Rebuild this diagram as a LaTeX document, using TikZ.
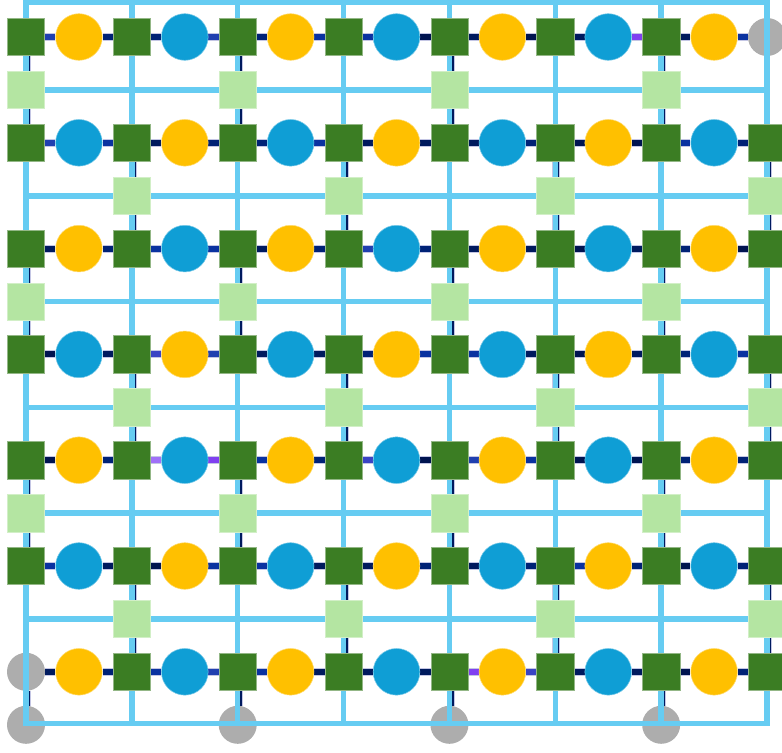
\documentclass[tikz,border=0pt]{standalone}
\usetikzlibrary{calc}
\definecolor{gridblue}{HTML}{66CCF2}
\definecolor{leaf}{HTML}{3B7D23}
\definecolor{gold}{HTML}{FFC000}
\definecolor{sea}{HTML}{0F9ED5}
\definecolor{mint}{HTML}{B4E5A2}
\definecolor{ash}{HTML}{ADADAD}
\definecolor{rim}{HTML}{C4C6E4}
\definecolor{eA}{HTML}{001450}
\definecolor{eB}{HTML}{001A5E}
\definecolor{eC}{HTML}{002276}
\definecolor{eD}{HTML}{0A32A0}
\definecolor{eE}{HTML}{2040B0}
\definecolor{eF}{HTML}{3A44C4}
\definecolor{eG}{HTML}{8040F0}
\definecolor{eH}{HTML}{A070F8}
\pgfdeclarelayer{under}\pgfdeclarelayer{rungs}\pgfdeclarelayer{lattice}\pgfdeclarelayer{links}
\pgfsetlayers{under,rungs,lattice,links,main}
\tikzset{gsq/.style={rectangle,fill=leaf,draw=leaf!55!white,line width=0.4pt,minimum size=28pt,inner sep=0pt},
  pad/.style={gsq,fill=mint,draw=mint!60!white},
  ycirc/.style={circle,fill=gold,draw=gold!55!white,line width=0.4pt,minimum size=35pt,inner sep=0pt},
  bcirc/.style={ycirc,fill=sea,draw=sea!55!white},
  gcirc/.style={circle,fill=ash,minimum size=28.5pt,inner sep=0pt},
  mesh/.style={draw=gridblue,line width=4.1pt},
  link/.style={draw=rim,line width=0.75pt,double=#1,double distance=4.5pt},
  rung/.style={link=eB,transform canvas={xshift=0.8pt}}}

\begin{document}
\begin{tikzpicture}[x=0.75pt,y=-0.75pt]
\useasboundingbox (0,0) rectangle (782,753);
\begin{pgfonlayer}{under}
\node[gcirc] (n0-14) at ({26+52.93*14},37) {};
\node[gcirc] (n6-0) at (26,{37+105.8*6}) {};
\foreach \k in {0,4,8,12} \node[gcirc] (m6-\k) at ({26+52.93*\k},724.8) {};
\end{pgfonlayer}
\foreach \r in {0,...,6}
  \foreach \k in {0,...,14}{
    \pgfmathtruncatemacro\odd{mod(\k,2)}
    \pgfmathtruncatemacro\hue{mod(\r+(\k-1)/2,2)}
    \pgfmathtruncatemacro\isash{and(\r==0,\k==14)+and(\r==6,\k==0)}
    \ifnum\isash=0
      \ifnum\odd=1
        \ifnum\hue=0 \node[ycirc] (n\r-\k) at ({26+52.93*\k},{37+105.8*\r}) {};
        \else \node[bcirc] (n\r-\k) at ({26+52.93*\k},{37+105.8*\r}) {}; \fi
      \else \node[gsq] (n\r-\k) at ({26+52.93*\k},{37+105.8*\r}) {}; \fi
    \fi}
\foreach \r in {0,...,5}
  \foreach \k in {0,2,...,14}{
    \pgfmathtruncatemacro\on{mod(\r+\k/2,2)}
    \ifnum\on=0 \node[pad] (m\r-\k) at ({26+52.93*\k},{90+105.8*\r}) {}; \fi}
\begin{pgfonlayer}{rungs}
\foreach \r in {0,...,6}
  \foreach \k in {0,2,...,14}{
    \pgfmathtruncatemacro\on{mod(\r+\k/2,2)}
    \pgfmathtruncatemacro\nx{\r+1}
    \ifnum\on=0
      \ifnum\r<6 \draw[rung] (n\r-\k) -- (m\r-\k) -- (n\nx-\k);
      \else \draw[rung] (n\r-\k) -- (m\r-\k); \fi
    \fi}
\end{pgfonlayer}
\begin{pgfonlayer}{lattice}
\draw[mesh] (26,2) rectangle (767,723.5);
\foreach \k in {1,...,6} \draw[mesh] ({26+105.86*\k},2) -- ({26+105.86*\k},723.5);
\foreach \r in {0,...,5} \draw[mesh] (26,{90+105.8*\r}) -- (767,{90+105.8*\r});
\end{pgfonlayer}
\begin{pgfonlayer}{links}
\foreach \r/\hues in {0/{eE,eC,eC,eE,eC,eD,eD,eA,eB,eA,eB,eG,eB,eD},
    1/{eE,eD,eB,eC,eC,eD,eB,eB,eB,eC,eA,eA,eD,eC},
    2/{eB,eC,eD,eD,eB,eC,eE,eC,eB,eB,eA,eB,eC,eA},
    3/{eA,eB,eF,eE,eB,eB,eC,eD,eD,eB,eA,eB,eC,eD},
    4/{eA,eC,eH,eG,eD,eC,eF,eA,eE,eD,eA,eA,eC,eC},
    5/{eD,eB,eA,eD,eD,eB,eB,eC,eB,eC,eD,eC,eA,eC},
    6/{eB,eC,eD,eE,eD,eB,eB,eB,eG,eF,eB,eB,eA,eC}}
  \foreach \c [count=\k from 0] in \hues{
    \pgfmathtruncatemacro\nk{\k+1}
    \draw[link=\c] (n\r-\k) -- (n\r-\nk);}
\end{pgfonlayer}
\end{tikzpicture}
\end{document}
